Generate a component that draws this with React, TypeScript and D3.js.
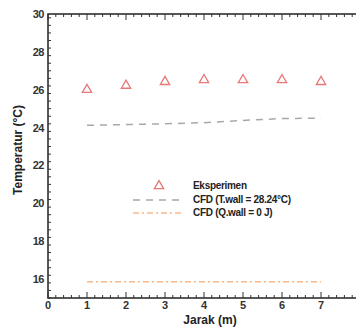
import React from "react";
import * as d3 from "d3";

const jarak = [1, 2, 3, 4, 5, 6, 7];
const eksperimen = [26.0, 26.22, 26.42, 26.52, 26.52, 26.52, 26.42];
const cfdTwall = [24.12, 24.16, 24.2, 24.26, 24.38, 24.48, 24.5];
const cfdQwall = [15.86, 15.86, 15.86, 15.86, 15.86, 15.86, 15.86];
const xTicks = [0, 1, 2, 3, 4, 5, 6, 7];
const yTicks = [16, 18, 20, 22, 24, 26, 28, 30];
const legendLabels = ["Eksperimen", "CFD (T.wall = 28.24°C)", "CFD (Q.wall = 0 J)"];

export default function App() {
  const W = 356, H = 327;
  const x = d3.scaleLinear().domain([0, 8]).range([48, 360]);
  const y = d3.scaleLinear().domain([15, 30]).range([298, 14]);
  const line = d3.line<number>().x((_, i) => x(jarak[i])).y((d) => y(d));
  const font = "'Liberation Sans', Arial, sans-serif";
  const minorX = d3.range(0, 8.01, 0.2);
  const minorY = d3.range(15, 30.01, 0.4);
  const tri = d3.symbol().type(d3.symbolTriangle).size(38)();
  return (
    <svg width={W} height={H} style={{ position: "absolute", left: 0, top: 0 }}>
      <rect width={W} height={H} fill="#fff" />
      <rect x={x(0)} y={y(30)} width={x(8) - x(0)} height={y(15) - y(30)} fill="none" stroke="#222" strokeWidth={1.5} />
      {minorX.map((v, i) => {
        const major = Math.abs(v - Math.round(v)) < 1e-6;
        const len = major ? 6 : 3;
        return (
          <g key={"mx" + i} stroke="#333" strokeWidth={1}>
            <line x1={x(v)} x2={x(v)} y1={y(15)} y2={y(15) - len} />
            <line x1={x(v)} x2={x(v)} y1={y(30)} y2={y(30) + len} />
          </g>
        );
      })}
      {minorY.map((v, i) => {
        const major = Math.abs(v / 2 - Math.round(v / 2)) < 1e-6;
        const len = major ? 6 : 3;
        return (
          <g key={"my" + i} stroke="#333" strokeWidth={1}>
            <line x1={x(0)} x2={x(0) + len} y1={y(v)} y2={y(v)} />
            <line x1={x(8)} x2={x(8) - len} y1={y(v)} y2={y(v)} />
          </g>
        );
      })}
      {xTicks.map((v) => (
        <text key={"xt" + v} x={x(v)} y={309} textAnchor="middle" fontFamily={font} fontWeight="bold" fontSize={11} fill="#333">
          {v}
        </text>
      ))}
      {yTicks.map((v) => (
        <text key={"yt" + v} x={x(0) - 4} y={y(v) + 4} textAnchor="end" fontFamily={font} fontWeight="bold" fontSize={11} fill="#333" letterSpacing={-0.5}>
          {v}
        </text>
      ))}
      <text x={210} y={324} textAnchor="middle" fontFamily={font} fontWeight="bold" fontSize={12} fill="#222">Jarak (m)</text>
      <text transform={`translate(22,150) rotate(-90)`} textAnchor="middle" fontFamily={font} fontWeight="bold" fontSize={12} fill="#222">Temperatur (°C)</text>
      <path d={line(cfdTwall) || ""} fill="none" stroke="#a8a8a8" strokeWidth={1.5} strokeDasharray="7,6" />
      <path d={line(cfdQwall) || ""} fill="none" stroke="#f6b98c" strokeWidth={1.5} strokeDasharray="6,3,2,3" />
      {eksperimen.map((v, i) => (
        <path key={"e" + i} d={tri || ""} transform={`translate(${x(jarak[i])},${y(v)})`} fill="none" stroke="#e87878" strokeWidth={1.3} />
      ))}
      <path d={tri || ""} transform="translate(159,186)" fill="none" stroke="#e87878" strokeWidth={1.3} />
      <line x1={133} x2={181} y1={200} y2={200} stroke="#a8a8a8" strokeWidth={1.5} strokeDasharray="7,6" />
      <line x1={133} x2={181} y1={213} y2={213} stroke="#f6b98c" strokeWidth={1.5} strokeDasharray="6,3,2,3" />
      {legendLabels.map((t, i) => (
        <text key={t} x={193} y={189 + i * 13.5} fontFamily={font} fontWeight="bold" fontSize={10} fill="#222" letterSpacing={-0.3}>{t}</text>
      ))}
    </svg>
  );
}
